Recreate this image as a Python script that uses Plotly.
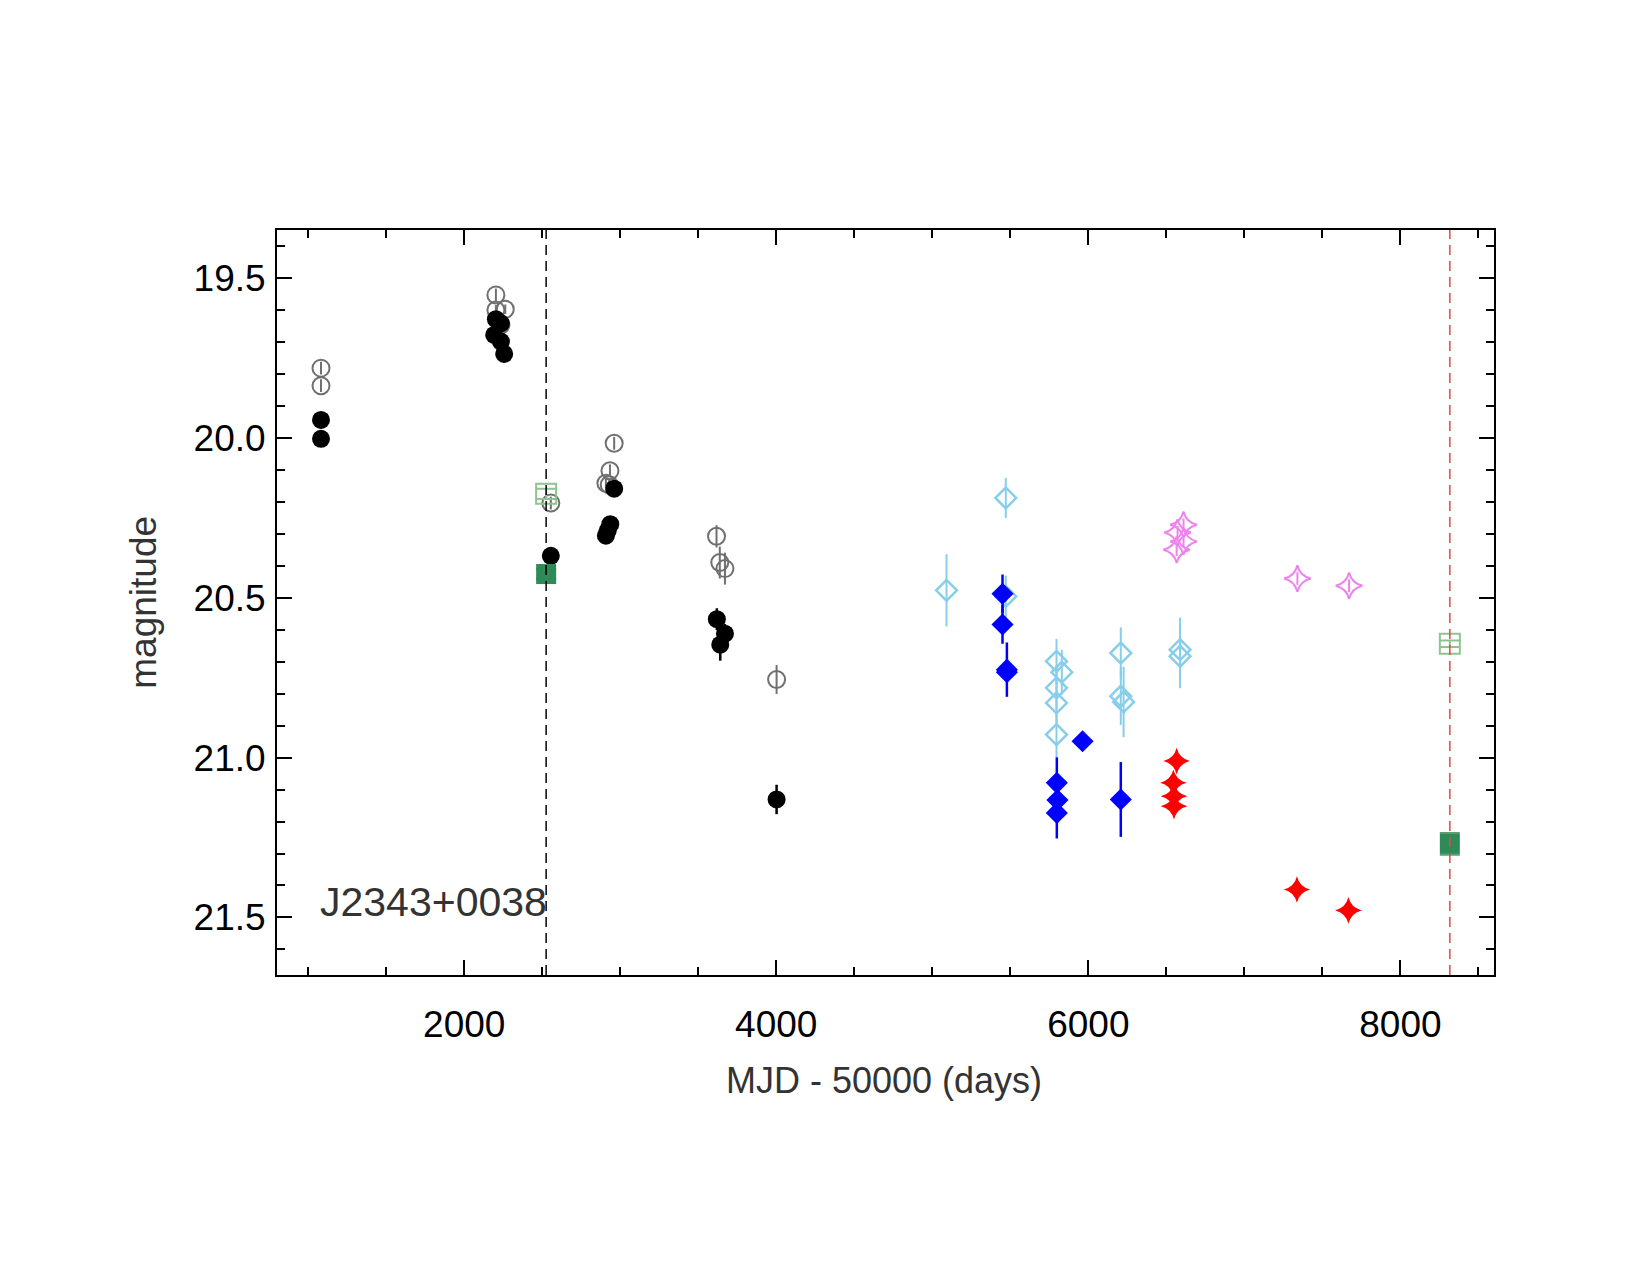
import plotly.graph_objects as go

# ---------------- data (MJD-50000, magnitude, error) ----------------
gray_x = [1082, 1082, 2203, 2203, 2263, 2235, 2555, 2961, 2934, 2908, 2929, 3617, 3638, 3671, 4002]
gray_y = [19.782, 19.837, 19.553, 19.600, 19.598, 19.647, 20.204, 20.017, 20.103, 20.142, 20.147, 20.308, 20.390, 20.409, 20.756]
gray_e = [0.02, 0.02, 0.02, 0.015, 0.015, 0.015, 0.02, 0.02, 0.02, 0.015, 0.015, 0.035, 0.05, 0.05, 0.045]

black_x = [1082, 1082, 2203, 2235, 2192, 2235, 2256, 2555, 2961, 2936, 2920, 2908, 3619, 3671, 3641, 4002]
black_y = [19.944, 20.003, 19.629, 19.642, 19.678, 19.699, 19.7375, 20.369, 20.159, 20.270, 20.290, 20.306, 20.567, 20.6125, 20.647, 21.131]
black_e = [0.01, 0.01, 0.01, 0.01, 0.01, 0.01, 0.01, 0.015, 0.01, 0.01, 0.01, 0.01, 0.034, 0.03, 0.05, 0.046]

lblue_x = [5091, 5471, 5471, 5796, 5830, 5796, 5796, 5796, 6208, 6208, 6226, 6588, 6588]
lblue_y = [20.477, 20.188, 20.496, 20.699, 20.733, 20.782, 20.829, 20.928, 20.673, 20.808, 20.826, 20.6625, 20.683]
lblue_e = [0.113, 0.0625, 0.065, 0.07, 0.07, 0.07, 0.07, 0.07, 0.08, 0.09, 0.11, 0.1, 0.1]

blue_x = [5450, 5450, 5478, 5478, 5963, 5798, 5802, 5798, 6208]
blue_y = [20.4875, 20.584, 20.725, 20.733, 20.949, 21.079, 21.133, 21.173, 21.131]
blue_e = [0.06, 0.06, 0.085, 0.02, 0.0, 0.08, 0.07, 0.08, 0.117]

violet_x = [6610, 6572, 6610, 6566, 7340, 7671]
violet_y = [20.272, 20.296, 20.324, 20.350, 20.440, 20.4625]
violet_e = [0.02, 0.02, 0.02, 0.02, 0.02, 0.02]

red_x = [6566, 6545, 6549, 6549, 7337, 7667]
red_y = [21.011, 21.079, 21.121, 21.152, 21.4125, 21.478]
red_e = [0.01, 0.01, 0.01, 0.01, 0.01, 0.01]

lgreen_x = [2525, 8317]
lgreen_y = [20.175, 20.644]
lgreen_e = [0.016, 0.01]

dgreen_x = [2525, 8317]
dgreen_y = [20.426, 21.270]
dgreen_e = [0.015, 0.034]

vline_black = 2525
vline_red = 8317

x_range = [800, 8600]
y_range = [21.68, 19.35]
label_text = "J2343+0038"
xtitle = "MJD - 50000 (days)"
ytitle = "magnitude"

FONT = "Liberation Sans, Arial, Helvetica, sans-serif"

fig = go.Figure()

def add(x, y, e, symbol, size, color, lw=2, ecolor=None, ewidth=0, ethick=2, fillcolor=None):
    fig.add_trace(go.Scatter(
        x=x, y=y, mode="markers",
        error_y=dict(type="data", array=e, visible=True, color=ecolor or color,
                     thickness=ethick, width=ewidth),
        marker=dict(symbol=symbol, size=size, color=fillcolor or color,
                    line=dict(color=color, width=lw)),
        showlegend=False, cliponaxis=False,
    ))

add(gray_x, gray_y, gray_e, "circle-open", 17, "#707070", lw=2)
add(black_x, black_y, black_e, "circle", 18, "#000000", lw=0, ethick=2.5)
add(lblue_x, lblue_y, lblue_e, "diamond-open", 16, "#87CEEB", lw=2.5)
add(blue_x, blue_y, blue_e, "diamond", 17, "#0000FF", lw=0, ethick=2.5)
add(violet_x, violet_y, violet_e, "star-diamond-open", 19, "#EE82EE", lw=2)
add(red_x, red_y, red_e, "star-diamond", 19, "#FF0000", lw=0)
add(lgreen_x, lgreen_y, lgreen_e, "square-open", 20, "#8FC48F", lw=2, ewidth=10)
add(dgreen_x, dgreen_y, dgreen_e, "square", 20, "#2E8B57", lw=0, ewidth=10, ecolor="#5E9E75")

axis_common = dict(
    showline=True, linecolor="black", linewidth=2, mirror="allticks",
    ticks="inside", tickcolor="black", tickwidth=2, ticklen=15,
    showgrid=False, zeroline=False,
    tickfont=dict(family=FONT, size=37, color="black"),
)

fig.update_layout(
    width=1650, height=1275,
    paper_bgcolor="white", plot_bgcolor="white",
    margin=dict(l=277, r=156, t=230, b=300, autoexpand=False),
    xaxis=dict(range=x_range, tick0=0, dtick=2000, automargin=False, ticklabelstandoff=16,
               minor=dict(ticks="inside", ticklen=8, tickwidth=2, tickcolor="black", dtick=500, tick0=0),
               **axis_common),
    yaxis=dict(range=y_range, tick0=19.5, dtick=0.5, tickformat=".1f", automargin=False, ticklabelstandoff=2,
               minor=dict(ticks="inside", ticklen=8, tickwidth=2, tickcolor="black", dtick=0.1, tick0=19.5),
               **axis_common),
    shapes=[
        dict(type="line", xref="x", yref="paper", x0=vline_black, x1=vline_black, y0=0, y1=1,
             line=dict(color="black", width=1.5, dash="10px,6px")),
        dict(type="line", xref="x", yref="paper", x0=vline_red, x1=vline_red, y0=0, y1=1,
             line=dict(color="#E8453C", width=1.5, dash="10px,6px")),
    ],
    annotations=[
        dict(text=label_text, xref="x", yref="y", x=1062, y=21.453, xanchor="left", yanchor="middle",
             showarrow=False, font=dict(family=FONT, size=41, color="#333333")),
        dict(text=xtitle, xref="paper", yref="paper", x=0.499, y=-0.1415, xanchor="center", yanchor="middle",
             showarrow=False, font=dict(family=FONT, size=36, color="#333333")),
        dict(text=ytitle, xref="paper", yref="paper", x=-0.1093, y=0.501, xanchor="center", yanchor="middle",
             textangle=-90, showarrow=False, font=dict(family=FONT, size=37, color="#333333")),
    ],
)

fig.write_html("out.html")
